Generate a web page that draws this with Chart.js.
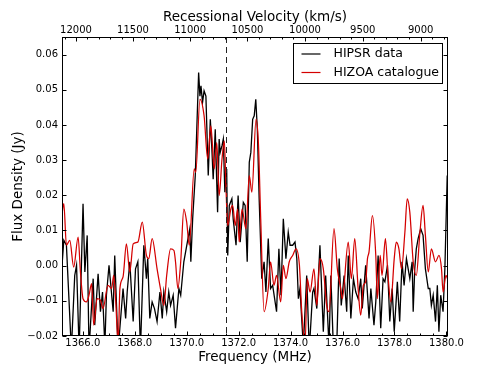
<!DOCTYPE html>
<html>
<head>
<meta charset="utf-8">
<script src="https://cdn.jsdelivr.net/npm/chart.js@4.4.0/dist/chart.umd.min.js"></script>
<style>
  html, body { margin: 0; padding: 0; background: #fff; }
  #wrap { width: 498px; height: 374px; }
</style>
</head>
<body>
<div id="wrap"><canvas id="chart" width="498" height="374"></canvas></div>
<script>
// HIPSR spectrum (black), frequency in MHz and flux in Jy
const hipsrFreq = [
  1365.11, 1365.27, 1365.37, 1365.56, 1365.69, 1365.76, 1365.86, 1366.01, 1366.08, 1366.17,
  1366.24, 1366.34, 1366.40, 1366.46, 1366.59, 1366.68, 1366.76, 1366.85, 1366.91, 1367.01,
  1367.17, 1367.23, 1367.36, 1367.55, 1367.65, 1367.71, 1367.81, 1367.94, 1368.03, 1368.12,
  1368.22, 1368.35, 1368.45, 1368.50, 1368.58, 1368.67, 1368.76, 1368.86, 1368.97, 1369.06,
  1369.12, 1369.23, 1369.31, 1369.38, 1369.48, 1369.57, 1369.70, 1369.77, 1369.89, 1370.05,
  1370.12, 1370.16, 1370.23, 1370.33, 1370.46, 1370.51, 1370.55, 1370.61, 1370.67, 1370.74,
  1370.83, 1370.91, 1370.97, 1371.02, 1371.10, 1371.19, 1371.25, 1371.29, 1371.36, 1371.41,
  1371.47, 1371.54, 1371.58, 1371.64, 1371.74, 1371.79, 1371.90, 1371.98, 1372.06, 1372.18,
  1372.25, 1372.33, 1372.41, 1372.47, 1372.54, 1372.60, 1372.66, 1372.72, 1372.79, 1372.89,
  1372.98, 1373.05, 1373.14, 1373.23, 1373.31, 1373.46, 1373.55, 1373.63, 1373.72, 1373.82,
  1373.91, 1373.98, 1374.08, 1374.17, 1374.24, 1374.30, 1374.36, 1374.49, 1374.62, 1374.72,
  1374.85, 1374.90, 1375.01, 1375.13, 1375.26, 1375.35, 1375.48, 1375.55, 1375.65, 1375.78,
  1375.87, 1375.95, 1376.06, 1376.16, 1376.22, 1376.32, 1376.42, 1376.51, 1376.60, 1376.70,
  1376.76, 1376.89, 1377.02, 1377.09, 1377.21, 1377.28, 1377.37, 1377.47, 1377.56, 1377.63,
  1377.73, 1377.82, 1377.91, 1377.99, 1378.11, 1378.20, 1378.29, 1378.37, 1378.46, 1378.59,
  1378.68, 1378.72, 1378.78, 1378.84, 1378.91, 1379.01, 1379.10, 1379.19, 1379.30, 1379.36,
  1379.42, 1379.49, 1379.58, 1379.65, 1379.71, 1379.78, 1379.87, 1379.94, 1380.03, 1380.07
];
const hipsrFlux = [
  -0.0094, 0.0072, 0.0058, -0.024, -0.0028, 0.0001, -0.024, 0.0176, -0.0018, 0.0086,
  -0.024, -0.0113, -0.0037, -0.0169, -0.0023, -0.0131, -0.0075, -0.023, -0.0084, 0.0001,
  -0.0131, 0.0029, -0.024, -0.0065, -0.0150, -0.0075, 0.0011, -0.0159, -0.0009, 0.0011,
  -0.024, 0.0058, -0.0037, 0.0020, -0.0150, -0.0103, -0.0122, -0.0159, -0.0075, -0.0150,
  -0.0075, -0.0131, -0.0075, -0.0113, -0.0084, -0.0178, -0.0065, -0.0084, 0.0011, 0.0077,
  0.0105, 0.0011, 0.0133, 0.0256, 0.0549, 0.0482, 0.0511, 0.0464, 0.0497, 0.0482,
  0.0256, 0.0416, 0.0331, 0.0246, 0.0388, 0.0152, 0.0360, 0.0322, 0.0341, 0.0360,
  0.0209, 0.0275, 0.0029, 0.0171, 0.0190, 0.0133, 0.0058, 0.0199, 0.0067, 0.0180,
  0.0171, 0.0011, 0.0294, 0.0322, 0.0416, 0.0426, 0.0473, 0.0388, 0.0190, -0.0037,
  0.0011, -0.0075, 0.0077, -0.0065, -0.0056, -0.0131, 0.0048, -0.0084, 0.0133, 0.0020,
  0.0095, 0.0058, 0.0058, 0.0067, 0.0020, -0.0094, -0.0065, -0.023, -0.0028, -0.024,
  -0.0075, -0.0065, -0.0122, 0.0058, -0.0188, -0.0028, -0.023, -0.0028, -0.024, -0.022,
  0.0020, -0.0113, -0.0028, -0.0131, 0.0029, -0.0150, -0.0037, -0.0075, -0.0094, -0.0037,
  -0.0122, 0.0001, -0.0150, -0.0065, -0.0169, -0.0103, 0.0029, -0.0178, -0.0037, -0.0046,
  0.0001, -0.0159, -0.0065, -0.0188, -0.0046, -0.0159, 0.0011, -0.0056, 0.0020, -0.0037,
  0.0011, -0.0131, -0.0009, 0.0048, 0.0077, 0.0105, 0.0086, -0.0009, -0.0065, -0.0065,
  -0.0113, -0.0084, -0.0159, -0.0056, -0.0188, -0.0084, -0.0131, -0.0009, 0.0256, 0.0029
];

// HIZOA catalogue spectrum (red)
const hizoaFreq = [
  1365.19, 1365.27, 1365.37, 1365.50, 1365.65, 1365.82, 1365.91, 1366.01, 1366.14, 1366.24,
  1366.34, 1366.42, 1366.55, 1366.68, 1366.78, 1366.97, 1367.11, 1367.19, 1367.27, 1367.36,
  1367.43, 1367.55, 1367.68, 1367.81, 1367.94, 1368.12, 1368.29, 1368.45, 1368.54, 1368.67,
  1368.86, 1368.99, 1369.12, 1369.23, 1369.38, 1369.51, 1369.57, 1369.66, 1369.77, 1369.89,
  1370.00, 1370.10, 1370.29, 1370.35, 1370.51, 1370.67, 1370.81, 1370.93, 1371.06, 1371.16,
  1371.25, 1371.36, 1371.45, 1371.51, 1371.58, 1371.70, 1371.77, 1371.87, 1371.96, 1372.02,
  1372.13, 1372.28, 1372.41, 1372.51, 1372.67, 1372.76, 1372.85, 1372.98, 1373.14, 1373.23,
  1373.36, 1373.46, 1373.62, 1373.72, 1373.82, 1373.95, 1374.08, 1374.21, 1374.34, 1374.43,
  1374.56, 1374.64, 1374.75, 1374.90, 1375.01, 1375.13, 1375.26, 1375.39, 1375.48, 1375.67,
  1375.80, 1375.93, 1375.99, 1376.22, 1376.34, 1376.47, 1376.60, 1376.70, 1376.80, 1376.89,
  1376.96, 1377.02, 1377.15, 1377.28, 1377.34, 1377.45, 1377.52, 1377.65, 1377.75, 1377.86,
  1377.99, 1378.07, 1378.17, 1378.27, 1378.40, 1378.49, 1378.59, 1378.72, 1378.84, 1378.98,
  1379.10, 1379.19, 1379.30, 1379.42, 1379.58, 1379.71, 1379.81, 1379.87, 1379.98, 1380.04
];
const hizoaFlux = [
  0.0142, 0.0176, 0.0058, 0.0072, -0.0004, 0.0081, -0.0018, -0.0094, -0.0103, -0.0084,
  -0.0051, -0.0169, -0.0094, -0.0098, -0.0122, -0.0056, -0.0065, -0.0028, -0.0103, -0.022,
  -0.0065, -0.0032, 0.0062, -0.0018, 0.0062, 0.0067, 0.0124, 0.0029, 0.0020, 0.0077,
  -0.0009, -0.0065, -0.0113, -0.0028, 0.0048, 0.0043, 0.0011, -0.0065, 0.0011, 0.0161,
  0.0124, 0.0058, 0.0275, 0.0265, 0.0473, 0.0426, 0.0303, 0.0397, 0.0275, 0.0350,
  0.0199, 0.0303, 0.0355, 0.0227, 0.0114, 0.0161, 0.0171, 0.0114, 0.0161, 0.0067,
  0.0161, 0.0105, 0.0256, 0.0209, 0.0416, 0.0350, 0.0133, -0.0131, -0.0065, 0.0011,
  -0.0056, -0.0028, -0.0103, 0.0001, -0.0037, 0.0011, 0.0029, 0.0048, 0.0001, -0.0131,
  -0.022, -0.0037, -0.0075, -0.0009, -0.0113, 0.0020, -0.0009, -0.0113, -0.0131, 0.0105,
  -0.0009, -0.0065, -0.0094, 0.0067, -0.0037, 0.0077, -0.0065, -0.0141, -0.0056, -0.0046,
  0.0020, 0.0039, 0.0142, 0.0029, -0.0094, 0.0029, -0.0028, 0.0077, -0.0028, -0.0103,
  0.0020, 0.0067, 0.0048, -0.0009, 0.0095, 0.0190, 0.0152, 0.0011, -0.0028, 0.0095,
  0.0171, 0.0086, -0.0018, 0.0048, 0.0011, 0.0029, -0.0009, -0.0075, -0.0028, -0.0037
];

// axes
const freqTicks = [1366, 1368, 1370, 1372, 1374, 1376, 1378, 1380];
const fluxTicks = [-0.02, -0.01, 0.00, 0.01, 0.02, 0.03, 0.04, 0.05, 0.06];
const velocityTicks = [12000, 11500, 11000, 10500, 10000, 9500, 9000];
const markerFreq = 1371.53;   // dashed line
const REST_FREQ = 1420.405752;
const C_KMS = 299792.458;

function velToFreq(v) { return REST_FREQ / (1 + v / C_KMS); }
function fmtFlux(v) {
  const s = Math.abs(v).toFixed(2);
  return (v < -1e-9 ? '\u2212' : '') + s;
}

Chart.defaults.font.family = "'DejaVu Sans', sans-serif";
Chart.defaults.color = '#000';

const frame = {
  id: 'frame',
  afterDatasetsDraw(chart) {
    const { ctx, chartArea: a, scales } = chart;
    const x = scales.x, y = scales.y;
    ctx.save();
    // dashed marker
    ctx.strokeStyle = '#222';
    ctx.lineWidth = 1;
    ctx.setLineDash([6, 4]);
    const mx = Math.round(x.getPixelForValue(markerFreq)) + 0.5;
    ctx.beginPath(); ctx.moveTo(mx, a.top); ctx.lineTo(mx, a.bottom); ctx.stroke();
    ctx.setLineDash([]);

    // box
    ctx.strokeStyle = '#000';
    ctx.lineWidth = 1;
    const L = Math.round(a.left) + 0.5, R = Math.round(a.right) - 0.5;
    const T = Math.round(a.top) + 0.5, B = Math.round(a.bottom) - 0.5;
    ctx.strokeRect(L, T, R - L, B - T);

    ctx.beginPath();
    // y ticks, left and right, pointing in
    fluxTicks.forEach(v => {
      const py = Math.round(y.getPixelForValue(v)) + 0.5;
      ctx.moveTo(L, py); ctx.lineTo(L + 4, py);
      ctx.moveTo(R, py); ctx.lineTo(R - 4, py);
    });
    // bottom ticks
    for (let f = 1365.5; f <= 1380.01; f += 0.5) {
      const px = Math.round(x.getPixelForValue(f)) + 0.5;
      const len = Math.abs(f / 2 - Math.round(f / 2)) < 1e-6 ? 4 : 2;
      ctx.moveTo(px, B); ctx.lineTo(px, B - len);
    }
    // top ticks (velocity)
    for (let v = 8800; v <= 12100; v += 100) {
      const px = Math.round(x.getPixelForValue(velToFreq(v))) + 0.5;
      if (px < L || px > R) continue;
      const len = v % 500 === 0 ? 4 : 2;
      ctx.moveTo(px, T); ctx.lineTo(px, T + len);
    }
    ctx.stroke();

    // legend
    const bw = 149, bh = 40;
    const bx = Math.round(a.right) - 6 - bw + 0.5, by = Math.round(a.top) + 6 + 0.5;
    ctx.fillStyle = '#fff';
    ctx.fillRect(bx, by, bw, bh);
    ctx.strokeRect(bx, by, bw, bh);
    ctx.font = "12.5px 'DejaVu Sans'";
    ctx.textBaseline = 'middle';
    ctx.textAlign = 'left';
    chart.data.datasets.forEach((ds, i) => {
      const ly = by + 10.5 + i * 18.5;
      ctx.strokeStyle = ds.borderColor;
      ctx.lineWidth = 1.2;
      ctx.beginPath(); ctx.moveTo(bx + 8, ly); ctx.lineTo(bx + 27, ly); ctx.stroke();
      ctx.fillStyle = '#000';
      ctx.fillText(ds.label, bx + 40, ly);
    });
    ctx.restore();
  }
};

new Chart(document.getElementById('chart'), {
  type: 'line',
  data: {
    datasets: [
      {
        label: 'HIPSR data',
        data: hipsrFreq.map((f, i) => ({ x: f, y: hipsrFlux[i] })),
        borderColor: '#000',
        borderWidth: 1.3,
        pointRadius: 0,
        tension: 0,
        order: 1
      },
      {
        label: 'HIZOA catalogue',
        data: hizoaFreq.map((f, i) => ({ x: f, y: hizoaFlux[i] })),
        borderColor: '#d40000',
        borderWidth: 1.25,
        pointRadius: 0,
        cubicInterpolationMode: 'monotone',
        order: 0
      }
    ]
  },
  options: {
    responsive: false,
    animation: false,
    devicePixelRatio: 1,
    layout: { padding: { left: 0, right: 50, top: 0, bottom: 0 } },
    plugins: { legend: { display: false }, tooltip: { enabled: false } },
    scales: {
      x: {
        type: 'linear',
        position: 'bottom',
        min: 1365.2,
        max: 1380.06,
        afterBuildTicks: s => { s.ticks = freqTicks.map(v => ({ value: v })); },
        afterFit: s => { s.height = 38; },
        grid: { display: false, drawTicks: false },
        border: { display: false },
        ticks: {
          autoSkip: false, maxRotation: 0, padding: 1,
          font: { size: 10 },
          callback: v => v.toFixed(1)
        },
        title: {
          display: true, text: 'Frequency (MHz)',
          font: { size: 13.5 }, padding: { top: 0, bottom: 8 }
        }
      },
      x2: {
        type: 'linear',
        position: 'top',
        min: 1365.2,
        max: 1380.06,
        afterBuildTicks: s => { s.ticks = velocityTicks.map(v => ({ value: velToFreq(v) })); },
        afterFit: s => { s.height = 37; },
        grid: { display: false, drawTicks: false },
        border: { display: false },
        ticks: {
          autoSkip: false, maxRotation: 0, padding: 1,
          font: { size: 10 },
          callback: (v, i) => String(velocityTicks[i])
        },
        title: {
          display: true, text: 'Recessional Velocity (km/s)',
          font: { size: 13.5 }, padding: { top: 9, bottom: 0 }
        }
      },
      y: {
        type: 'linear',
        min: -0.02,
        max: 0.065,
        afterBuildTicks: s => { s.ticks = fluxTicks.map(v => ({ value: v })); },
        afterFit: s => { s.width = 62; },
        grid: { display: false, drawTicks: false },
        border: { display: false },
        ticks: {
          autoSkip: false, padding: 4,
          font: { size: 10 },
          callback: v => fmtFlux(v)
        },
        title: {
          display: true, text: 'Flux Density (Jy)',
          font: { size: 13.5 }, padding: { top: 10, bottom: 0 }
        }
      }
    }
  },
  plugins: [frame]
});
</script>
</body>
</html>
